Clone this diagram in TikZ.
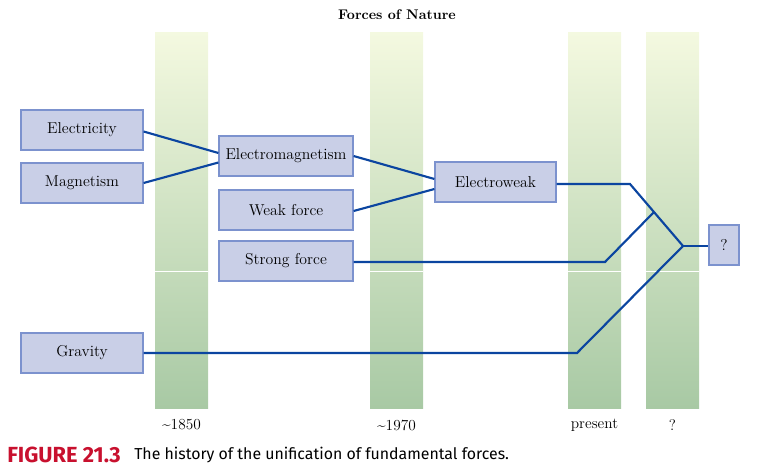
\documentclass[tikz,border=0pt]{standalone}
\usepackage{fontspec}
\newfontfamily\capfont{Fira Sans}
\usetikzlibrary{calc}
\definecolor{boxfill}{HTML}{C9CFE7}
\definecolor{boxline}{HTML}{7C92CE}
\definecolor{linkcol}{HTML}{0B45A0}
\definecolor{coltop}{HTML}{F4F9E0}
\definecolor{colbot}{HTML}{A8C9A4}
\definecolor{figred}{HTML}{C8102E}
\tikzset{
  forcebox/.style={draw=boxline, fill=boxfill, line width=0.9pt, minimum height=30pt, inner sep=0pt, font=\fontsize{11.8}{14}\selectfont},
  wideA/.style={minimum width=91.5pt},
  wideB/.style={minimum width=100.5pt},
  link/.style={draw=linkcol, line width=1.6pt, line join=miter},
  era/.style={font=\fontsize{11.5}{13}\selectfont},
  eracol/.style={top color=coltop, bottom color=colbot, draw=none}
}
\begin{document}
\begin{tikzpicture}[x=0.75pt,y=-0.75pt]
\useasboundingbox (0,0) rectangle (773,475);
% columns
\shade[eracol] (155,32) rectangle (208,408);
\shade[eracol] (370,32) rectangle (423,408);
\shade[eracol] (568,32) rectangle (621,408);
\shade[eracol] (646,32) rectangle (699,408);
\foreach \a/\b in {155/208,370/423,568/621,646/699}{\draw[white,line width=0.6pt] (\a,271) -- (\b,271);}
% title
\node[font=\bfseries\fontsize{10.5}{12}\selectfont] (title) at (397,15) {Forces of Nature};
% boxes
\node[forcebox,wideA] (elec) at (82,130) {Electricity};
\node[forcebox,wideA] (mag) at (82,183) {Magnetism};
\node[forcebox,wideB] (em) at (286,156) {Electromagnetism};
\node[forcebox,wideB] (weak) at (286,210) {Weak force};
\node[forcebox,wideB] (strong) at (286,261) {Strong force};
\node[forcebox,minimum width=90.75pt] (ew) at (495.5,182) {Electroweak};
\node[forcebox,wideA] (grav) at (82,353) {Gravity};
\node[forcebox,minimum width=22.5pt] (q) at (724,245) {?};
% bend points
\coordinate (ewbend) at (630,184);
\coordinate (j) at (683,246);
\coordinate (sbend) at (605,262);
\coordinate (smeet) at (654,212);
\coordinate (gbend) at (577,353);
% links
\draw[link] ($(elec.east)+(0,1.5)$) -- ($(em.west)+(0,-3)$);
\draw[link] (mag.east) -- ($(em.west)+(0,6.5)$);
\draw[link] (em.east) -- ($(ew.west)+(0,-3)$);
\draw[link] ($(weak.east)+(0,1)$) -- ($(ew.west)+(0,7)$);
\draw[link] ($(ew.east)+(0,2)$) -- (ewbend) -- (j);
\draw[link] ($(strong.east)+(0,1)$) -- (sbend) -- (smeet);
\draw[link] (grav.east) -- (gbend) -- (j);
\draw[link] (j) -- (j -| q.west);
% era labels
\node[era] (e1) at (181.5,425) {\char"007E 1850};
\node[era] (e2) at (396.5,425) {\char"007E 1970};
\node[era] (e3) at (594.5,425) {present};
\node[era] (e4) at (672.5,425) {?};
% caption
\node[anchor=west, font=\capfont\bfseries\fontsize{16.4}{18}\selectfont, text=figred, inner sep=0pt] (fig) at (7,455) {FIGURE 21.3};
\node[anchor=west, font=\capfont\fontsize{11.9}{14}\selectfont, inner sep=0pt] (cap) at (134,455) {The history of the unification of fundamental forces.};
\end{tikzpicture}
\end{document}
